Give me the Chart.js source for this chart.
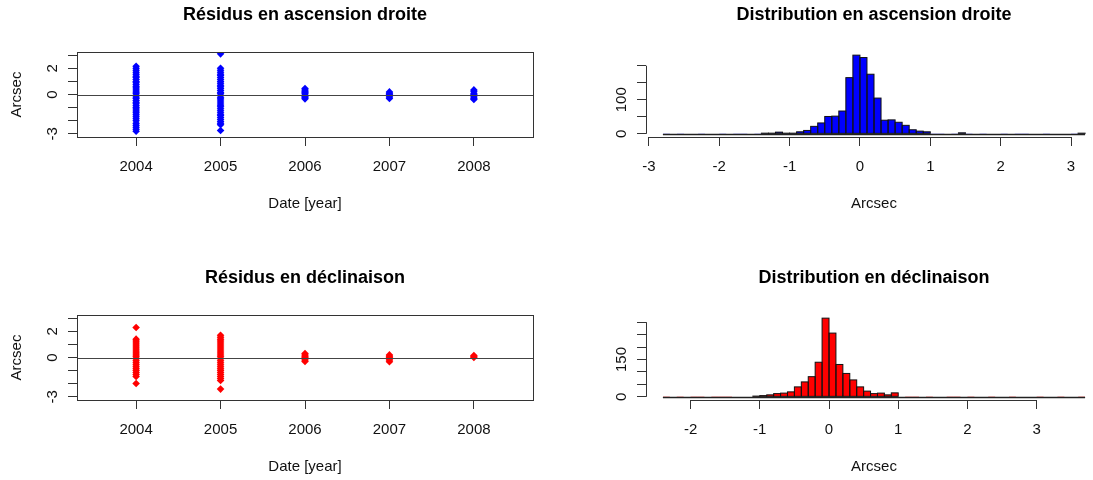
<!DOCTYPE html>
<html>
<head>
<meta charset="utf-8">
<script src="https://cdn.jsdelivr.net/npm/chart.js@4/dist/chart.umd.min.js"></script>
<style>
  html, body { margin: 0; padding: 0; background: #fff; overflow: hidden; width: 1093px; height: 480px; }
  canvas { position: absolute; }
</style>
</head>
<body>
<canvas id="raRes" width="569" height="263" style="left:0;top:0"></canvas>
<canvas id="raDist" width="569" height="263" style="left:569px;top:0"></canvas>
<canvas id="decRes" width="569" height="263" style="left:0;top:263px"></canvas>
<canvas id="decDist" width="569" height="263" style="left:569px;top:263px"></canvas>
<script>
// residuals (arcsec) per observing year
const years = [2004, 2005, 2006, 2007, 2008];
const ra2004 = [2.15, 2.0, 1.85, 1.7, 1.55, 1.4, 1.3, 1.15, 1.0, 0.9, 0.75, 0.6, 0.5, 0.35, 0.2, 0.1, -0.05, -0.2, -0.3, -0.45,
  -0.6, -0.7, -0.85, -1.0, -1.1, -1.25, -1.4, -1.55, -1.7, -1.85, -2.0, -2.2, -2.35, -2.5, -2.65, -2.8];
const ra2005 = [3.1, 2.0, 1.85, 1.7, 1.55, 1.45, 1.3, 1.15, 1.0, 0.85, 0.7, 0.6, 0.45, 0.3, 0.15, 0.05, -0.1, -0.25, -0.35,
  -0.5, -0.65, -0.8, -0.9, -1.05, -1.2, -1.35, -1.5, -1.6, -1.75, -1.9, -2.05, -2.2, -2.3, -2.75];
const ra2006 = [0.45, 0.35, 0.25, 0.15, 0.05, -0.05, -0.15, -0.25, -0.33];
const ra2007 = [0.2, 0.1, 0.0, -0.1, -0.2, -0.3];
const ra2008 = [0.35, 0.25, 0.1, 0.0, -0.1, -0.2, -0.3, -0.38];

const dec2004 = [2.29, 1.4, 1.25, 1.1, 0.95, 0.8, 0.65, 0.5, 0.35, 0.2, 0.05, -0.1, -0.25, -0.4, -0.55, -0.7, -0.85, -1.0,
  -1.15, -1.3, -1.45, -1.98];
const dec2005 = [1.7, 1.55, 1.4, 1.25, 1.1, 0.95, 0.8, 0.65, 0.5, 0.35, 0.2, 0.05, -0.1, -0.25, -0.4, -0.55, -0.7, -0.85,
  -1.0, -1.15, -1.3, -1.45, -1.6, -1.75, -2.41];
const dec2006 = [0.3, 0.2, 0.1, 0.0, -0.1, -0.2, -0.3];
const dec2007 = [0.2, 0.1, 0.0, -0.1, -0.2, -0.32];
const dec2008 = [0.15, 0.08, 0.0];

const raByYear = [ra2004, ra2005, ra2006, ra2007, ra2008];
const decByYear = [dec2004, dec2005, dec2006, dec2007, dec2008];

// histogram counts, bins of 0.1 arcsec
const binWidth = 0.1;
const raBinStart = -2.8;
const raCounts = [1, 0, 1, 0, 0, 1, 0, 0, 1, 0, 1, 1, 0, 1, 2, 2,
  5, 2, 2, 6, 10, 22, 32, 51, 52, 67, 165, 231, 224, 175, 105, 40, 41, 34, 25, 12, 8, 6,
  1, 1, 0, 1, 3, 1,
  0, 1, 0, 0, 1, 0, 1, 1, 0, 0, 1, 0, 0, 0, 1, 2];
const decBinStart = -2.4;
const decCounts = [1, 0, 1, 0, 1, 1, 0, 1, 1, 1, 2,
  2, 2, 3, 5, 8, 13, 15, 20, 40, 60, 81, 139, 316, 256, 130, 94, 68, 40, 23, 13, 15, 8, 16, 2,
  1, 1, 0, 1, 0, 0, 1, 1, 0, 1, 0, 0, 1, 0, 0, 1, 0, 0, 0, 1, 0, 0, 1, 0, 0, 1];

// axis ticks; R leaves out the labels that would overlap
const yearTicks = [2004, 2005, 2006, 2007, 2008];
const residTicks = [-3, -2, -1, 0, 1, 2, 3];
const residLabels = [2, 0, -3];
const raDistTicks = [-3, -2, -1, 0, 1, 2, 3];
const decDistTicks = [-2, -1, 0, 1, 2, 3];
const raCountTicks = [0, 50, 100, 150, 200];
const raCountLabels = [0, 100];
const decCountTicks = [0, 50, 100, 150, 200, 250, 300];
const decCountLabels = [0, 150];

Chart.defaults.font.family = '"Liberation Sans", Arial, Helvetica, sans-serif';
Chart.defaults.font.size = 15;
Chart.defaults.color = '#000';

const lineCol = '#333';

// R-like decorations: box, axis lines between first/last tick, horizontal line at 0,
// and hist()-style outlines around every bar
const rAxes = {
  id: 'rAxes',
  afterDatasetsDraw(chart, args, opts) {
    const {ctx, chartArea: a, scales: {x, y}} = chart;
    ctx.save();
    if (opts.outline) {
      ctx.strokeStyle = '#111';
      ctx.lineWidth = 1;
      chart.getDatasetMeta(0).data.forEach(bar => {
        const p = bar.getProps(['x', 'y', 'base', 'width'], true);
        if (p.base - p.y > 0.01) ctx.strokeRect(p.x - p.width / 2, p.y, p.width, p.base - p.y);
      });
    }
    if (opts.hline) {
      const py = Math.round(y.getPixelForValue(0)) + 0.5;
      const x0 = opts.hline.from == null ? a.left : x.getPixelForValue(opts.hline.from);
      const x1 = opts.hline.to == null ? a.right : x.getPixelForValue(opts.hline.to);
      ctx.strokeStyle = opts.hline.color || lineCol;
      ctx.lineWidth = opts.hline.width || 1;
      ctx.beginPath();
      ctx.moveTo(x0, py);
      ctx.lineTo(x1, py);
      ctx.stroke();
    }
    ctx.restore();
  },
  afterDraw(chart, args, opts) {
    const {ctx, chartArea: a, scales: {x, y}} = chart;
    ctx.save();
    ctx.strokeStyle = lineCol;
    ctx.lineWidth = 1;
    const bx = Math.round(a.bottom) + 0.5, lx = Math.round(a.left) + 0.5;
    ctx.beginPath();
    ctx.moveTo(x.getPixelForValue(x.ticks[0].value), bx);
    ctx.lineTo(x.getPixelForValue(x.ticks[x.ticks.length - 1].value), bx);
    ctx.moveTo(lx, y.getPixelForValue(y.ticks[0].value));
    ctx.lineTo(lx, y.getPixelForValue(y.ticks[y.ticks.length - 1].value));
    ctx.stroke();
    if (opts.box) {
      ctx.strokeRect(lx, Math.round(a.top) + 0.5, Math.round(a.right) - Math.round(a.left), Math.round(a.bottom) - Math.round(a.top));
    }
    ctx.restore();
  }
};

function xScale(min, max, ticks, title) {
  return {
    type: 'linear', min, max, offset: false,
    afterBuildTicks: s => { s.ticks = ticks.map(v => ({value: v})); },
    afterFit: s => { s.height = 76; },
    grid: {display: true, drawOnChartArea: false, offset: false, tickLength: 9, tickColor: lineCol, tickWidth: 1},
    border: {display: false},
    ticks: {autoSkip: false, maxRotation: 0, padding: 12, color: '#111', callback: v => String(v)},
    title: {display: true, text: title, color: '#111', padding: 0, font: {size: 15}}
  };
}

function yScale(min, max, ticks, labels, pad, title) {
  return {
    type: 'linear', min, max,
    afterBuildTicks: s => { s.ticks = ticks.map(v => ({value: v})); },
    afterFit: s => { s.width = 77; },
    grid: {display: true, drawOnChartArea: false, tickLength: 9, tickColor: lineCol, tickWidth: 1},
    border: {display: false},
    ticks: {autoSkip: false, minRotation: 90, maxRotation: 90, crossAlign: 'center', padding: pad, color: '#111',
      callback: v => labels.includes(v) ? String(v) : ''},
    title: title ? {display: true, text: title, color: '#111', padding: {top: 8, bottom: 0}, font: {size: 15}} : {display: false}
  };
}

function baseOptions(title, scales, rOpts) {
  return {
    responsive: false,
    animation: false,
    events: [],
    layout: {padding: {left: 0, right: 36, top: 0, bottom: 50}},
    scales,
    plugins: {
      legend: {display: false},
      tooltip: {enabled: false},
      title: {display: true, text: title, fullSize: false, color: '#000',
        font: {size: 18, weight: 'bold'}, padding: {top: 4.4, bottom: 26}},
      rAxes: rOpts
    }
  };
}

function residChart(id, title, byYear, colour) {
  new Chart(document.getElementById(id), {
    type: 'scatter',
    data: {
      datasets: [{
        data: years.flatMap((yr, i) => byYear[i].map(v => ({x: yr, y: v}))),
        pointStyle: 'rectRot',
        pointRadius: 3.8,
        backgroundColor: colour,
        borderWidth: 0,
        clip: 0
      }]
    },
    options: baseOptions(title, {
      x: xScale(2003.3, 2008.7, yearTicks, 'Date [year]'),
      y: yScale(-3.24, 3.24, residTicks, residLabels, 8.6, 'Arcsec')
    }, {box: true, hline: {color: '#444'}}),
    plugins: [rAxes]
  });
}

function distChart(id, title, start, counts, colour, xTicks, yTicks, yLabels) {
  const end = start + counts.length * binWidth;
  const span = end - start;
  const top = Math.max(...counts);
  new Chart(document.getElementById(id), {
    type: 'bar',
    data: {
      datasets: [{
        data: counts.map((c, i) => ({x: start + (i + 0.5) * binWidth, y: c})),
        backgroundColor: colour,
        borderWidth: 0,
        inflateAmount: 0,
        barPercentage: 1,
        categoryPercentage: 1
      }]
    },
    options: baseOptions(title, {
      x: xScale(start - 0.04 * span, end + 0.04 * span, xTicks, 'Arcsec'),
      y: yScale(-0.04 * top, 1.04 * top, yTicks, yLabels, 2.6, null)
    }, {box: false, outline: true, hline: {from: start, to: end, color: '#222', width: 1.5}}),
    plugins: [rAxes]
  });
}

residChart('raRes', 'Résidus en ascension droite', raByYear, '#0000ff');
residChart('decRes', 'Résidus en déclinaison', decByYear, '#ff0000');
distChart('raDist', 'Distribution en ascension droite', raBinStart, raCounts, '#0000ff', raDistTicks, raCountTicks, raCountLabels);
distChart('decDist', 'Distribution en déclinaison', decBinStart, decCounts, '#ff0000', decDistTicks, decCountTicks, decCountLabels);
</script>
</body>
</html>
